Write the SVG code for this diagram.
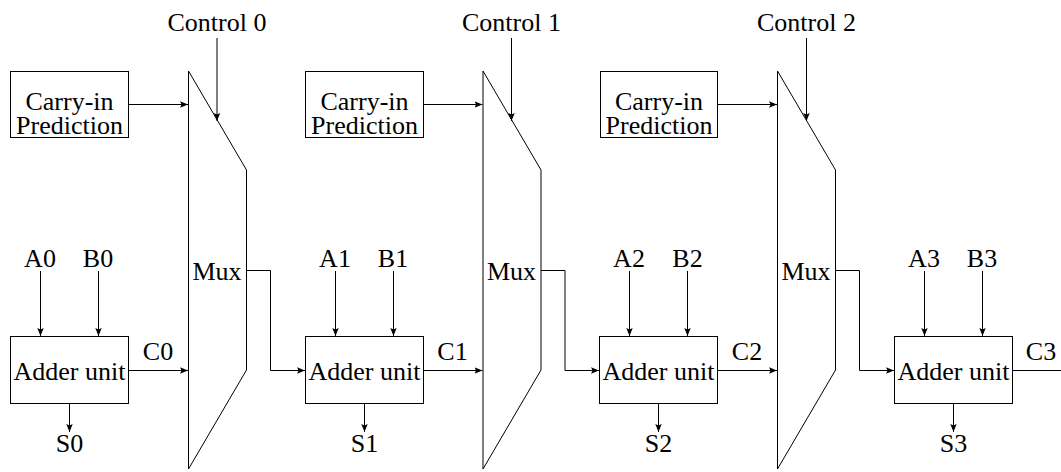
<svg xmlns="http://www.w3.org/2000/svg" width="1061" height="472" viewBox="0 0 1061 472">
  <style>
    .box { fill: #fff; stroke: #000; stroke-width: 1; }
    .mux { fill: #fff; stroke: #000; stroke-width: 1; }
    .wire { fill: none; stroke: #000; stroke-width: 1; }
    .arr { marker-end: url(#head); }
    text { font-family: "Liberation Serif", serif; font-size: 26px; fill: #000; text-anchor: middle; }
  </style>
  <defs>
    <marker id="head" viewBox="0 0 10 10" refX="10" refY="5" markerWidth="8" markerHeight="8" markerUnits="userSpaceOnUse" orient="auto">
      <path d="M0,1 L10,5 L0,9 L2,5 Z" fill="#000"/>
    </marker>
  </defs>

  <rect width="1061" height="472" fill="#fff"/>

  <!-- stage 0 -->
  <g id="pred0"><rect class="box" x="10.5" y="71.5" width="118" height="66"/><text x="69.5" y="110">Carry-in</text><text x="69.5" y="134">Prediction</text></g>
  <g id="mux0"><path class="mux" d="M188.5,71 L246.5,170 L246.5,370 L188.5,469 Z"/><text x="217" y="280">Mux</text></g>
  <g id="ctrl0"><text x="217" y="31">Control 0</text></g>
  <g id="adder0"><rect class="box" x="10.5" y="336.5" width="118" height="67"/><text x="69.5" y="380">Adder unit</text></g>
  <g id="in0"><text x="40" y="267">A0</text><text x="98" y="267">B0</text><text x="158" y="360">C0</text><text x="69.5" y="452">S0</text></g>

  <!-- stage 1 -->
  <g id="pred1"><rect class="box" x="305.5" y="71.5" width="118" height="66"/><text x="364.5" y="110">Carry-in</text><text x="364.5" y="134">Prediction</text></g>
  <g id="mux1"><path class="mux" d="M483,71 L541,170 L541,370 L483,469 Z"/><text x="511.5" y="280">Mux</text></g>
  <g id="ctrl1"><text x="511.5" y="31">Control 1</text></g>
  <g id="adder1"><rect class="box" x="305.5" y="336.5" width="118" height="67"/><text x="364.5" y="380">Adder unit</text></g>
  <g id="in1"><text x="335" y="267">A1</text><text x="393" y="267">B1</text><text x="452.5" y="360">C1</text><text x="364.5" y="452">S1</text></g>

  <!-- stage 2 -->
  <g id="pred2"><rect class="box" x="600.5" y="71.5" width="117" height="66"/><text x="659" y="110">Carry-in</text><text x="659" y="134">Prediction</text></g>
  <g id="mux2"><path class="mux" d="M777.5,71 L835.5,170 L835.5,370 L777.5,469 Z"/><text x="806" y="280">Mux</text></g>
  <g id="ctrl2"><text x="806.5" y="31">Control 2</text></g>
  <g id="adder2"><rect class="box" x="599.5" y="336.5" width="118" height="67"/><text x="658.5" y="380">Adder unit</text></g>
  <g id="in2"><text x="629" y="267">A2</text><text x="687.5" y="267">B2</text><text x="747" y="360">C2</text><text x="658.5" y="452">S2</text></g>

  <!-- stage 3 -->
  <g id="adder3"><rect class="box" x="894.5" y="336.5" width="118" height="67"/><text x="953.5" y="380">Adder unit</text></g>
  <g id="in3"><text x="924" y="267">A3</text><text x="982" y="267">B3</text><text x="1041" y="360">C3</text><text x="953.5" y="452">S3</text></g>

  <!-- connectors -->
  <g id="connectors">
    <!-- prediction to mux -->
    <line class="wire arr" x1="128.5" y1="104.5" x2="188" y2="104.5"/>
    <line class="wire arr" x1="423.5" y1="104.5" x2="482.5" y2="104.5"/>
    <line class="wire arr" x1="717.5" y1="104.5" x2="777" y2="104.5"/>
    <!-- control lines -->
    <line class="wire arr" x1="217" y1="38" x2="217" y2="121"/>
    <line class="wire arr" x1="511.5" y1="38" x2="511.5" y2="121"/>
    <line class="wire arr" x1="806.5" y1="38" x2="806.5" y2="121"/>
    <!-- operand inputs -->
    <line class="wire arr" x1="40.5" y1="271" x2="40.5" y2="336"/>
    <line class="wire arr" x1="98.5" y1="271" x2="98.5" y2="336"/>
    <line class="wire arr" x1="335.5" y1="271" x2="335.5" y2="336"/>
    <line class="wire arr" x1="393.5" y1="271" x2="393.5" y2="336"/>
    <line class="wire arr" x1="629.5" y1="271" x2="629.5" y2="336"/>
    <line class="wire arr" x1="687.5" y1="271" x2="687.5" y2="336"/>
    <line class="wire arr" x1="924.5" y1="271" x2="924.5" y2="336"/>
    <line class="wire arr" x1="982.5" y1="271" x2="982.5" y2="336"/>
    <!-- sum outputs -->
    <line class="wire arr" x1="69.5" y1="403.5" x2="69.5" y2="432"/>
    <line class="wire arr" x1="364.5" y1="403.5" x2="364.5" y2="432"/>
    <line class="wire arr" x1="658.5" y1="403.5" x2="658.5" y2="432"/>
    <line class="wire arr" x1="953.5" y1="403.5" x2="953.5" y2="432"/>
    <!-- carry outs into mux -->
    <line class="wire arr" x1="128.5" y1="370.5" x2="188" y2="370.5"/>
    <line class="wire arr" x1="423.5" y1="370.5" x2="482.5" y2="370.5"/>
    <line class="wire arr" x1="717.5" y1="370.5" x2="777" y2="370.5"/>
    <line class="wire" x1="1012.5" y1="370.5" x2="1061" y2="370.5"/>
    <!-- mux outputs to next adder -->
    <polyline class="wire arr" points="246.5,270.5 270.5,270.5 270.5,370.5 305,370.5"/>
    <polyline class="wire arr" points="541,270.5 565,270.5 565,370.5 599,370.5"/>
    <polyline class="wire arr" points="835.5,270.5 859.5,270.5 859.5,370.5 894,370.5"/>
  </g>
</svg>
